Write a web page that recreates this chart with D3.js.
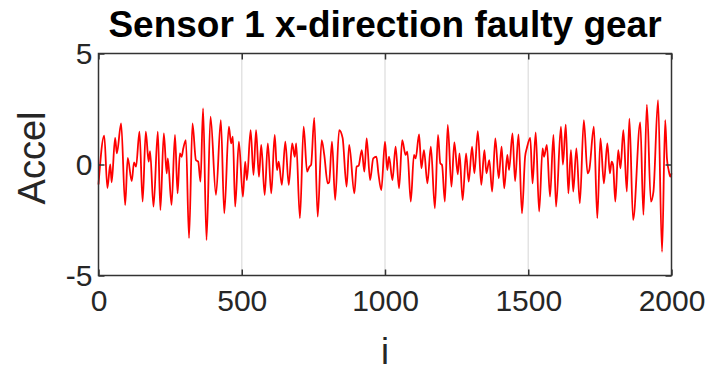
<!DOCTYPE html>
<html>
<head>
<meta charset="utf-8">
<script src="https://cdn.jsdelivr.net/npm/d3@7"></script>
<style>
  html, body { margin: 0; padding: 0; background: #fff; }
  svg { display: block; font-family: "Liberation Sans", Arial, Helvetica, sans-serif; }
</style>
</head>
<body>
<div id="chart"></div>
<script>
// sample index and acceleration at each turning point of the trace
const sampleIndex = [
  0, 20, 31, 41, 46, 58, 64, 79, 93, 102, 116, 124, 131, 143, 154, 165, 175, 180, 192, 207,
  216, 228, 238, 242, 255, 267, 276, 284, 290, 296, 305, 316, 328, 340, 348, 356, 365, 377, 391, 410,
  427, 439, 455, 463, 469, 477, 490, 504, 512, 518, 531, 541, 550, 560, 568, 580, 591, 603, 615, 623,
  629, 640, 652, 664, 676, 685, 690, 703, 716, 728, 736, 742, 753, 765, 779, 788, 800, 805, 815, 826,
  840, 852, 866, 875, 893, 901, 908, 919, 928, 936, 948, 959, 970, 977, 987, 1000, 1008, 1014, 1026, 1037,
  1049, 1060, 1072, 1078, 1090, 1101, 1107, 1119, 1127, 1136, 1148, 1160, 1174, 1185, 1193, 1199, 1209, 1219, 1232, 1242,
  1254, 1260, 1271, 1283, 1292, 1304, 1312, 1324, 1336, 1347, 1354, 1364, 1374, 1385, 1397, 1407, 1416, 1427, 1433, 1445,
  1454, 1466, 1478, 1489, 1495, 1507, 1515, 1526, 1538, 1550, 1555, 1565, 1576, 1588, 1597, 1614, 1621, 1631, 1640, 1649,
  1657, 1668, 1680, 1694, 1707, 1713, 1729, 1741, 1752, 1764, 1776, 1785, 1791, 1796, 1804, 1814, 1822, 1832, 1844, 1853,
  1866, 1891, 1902, 1914, 1928, 1937, 1953, 1967, 1978, 1984, 1990, 1996, 2000
];
const accel = [
  -0.9, 1.3, -1.06, 0.0, -0.8, 1.2, 0.5, 1.85, -1.83, 0.3, -0.75, 0.1, -0.1, 1.48, -1.67, 1.48, 0.13, 0.6, -1.9, 1.48,
  -2.05, 1.4, -0.4, 0.28, -1.82, 1.33, -1.3, 0.5, 0.35, 0.73, 1.1, -3.32, 1.85, 0.2, 0.13, -0.77, 2.53, -3.4, 2.15, -1.37,
  2.0, -2.2, 1.7, 0.95, 1.25, -1.9, 1.03, -1.45, 0.13, -0.7, 1.55, -0.47, 1.55, -0.55, 0.88, -1.37, 0.95, -1.3, 1.33, -0.25,
  0.13, -0.92, 1.03, -0.92, 0.95, 0.35, 0.95, -2.42, 1.7, -0.32, -0.1, -0.02, 2.1, -2.35, 1.1, 0.43, -0.85, -0.8, 1.03, -1.6,
  1.55, 1.2, -1.0, 0.88, -1.3, -0.1, -0.05, 0.65, -0.32, 1.18, -0.7, 0.28, 0.35, -0.4, -1.15, 1.03, -0.25, 0.35, -0.7, 0.8,
  -1.07, 1.1, 0.43, 0.58, -1.67, 0.43, 0.28, 1.36, -0.17, 0.65, -0.85, 0.8, -1.97, 1.33, 0.05, -0.02, -1.67, 1.78, -1.0, 1.0,
  -0.44, 0.5, -1.6, 0.5, -0.77, 0.8, -0.4, 1.5, -0.92, 0.65, -0.4, 0.2, -1.22, 1.18, -0.62, 0.8, -1.07, 0.43, -0.25, 1.4,
  -0.75, 1.36, -2.2, 0.35, 0.73, 1.2, -0.85, 1.45, -2.12, 0.73, 0.35, 0.88, -1.45, 1.33, -1.9, 1.7, 0.0, 1.8, -1.3, 0.65,
  -1.22, 0.73, -1.75, 2.0, -0.4, -0.25, 1.7, -2.42, 1.18, -0.85, 0.95, -0.4, 0.13, -0.02, -1.67, 0.65, -0.17, 1.55, -1.22, 2.06,
  -2.5, 1.9, -2.27, 2.7, -1.67, -1.22, 2.9, -3.93, 2.0, 0.28, -0.25, -0.55, -0.4
];

const xTicks = [0, 500, 1000, 1500, 2000];
const yTicks = [-5, 0, 5];
const gridTicks = [500, 1000, 1500];

const titleText = "Sensor 1 x-direction faulty gear";
const xLabel = "i";
const yLabel = "Accel";

const width = 712, height = 374;
const plot = { left: 98.5, right: 671.5, top: 53.5, bottom: 275.5 };
const axisColor = "#333333";

const svg = d3.select("#chart").append("svg")
  .attr("width", width)
  .attr("height", height);

const xScale = d3.scaleLinear().domain([0, 2000]).range([plot.left, plot.right]);
const yScale = d3.scaleLinear().domain([-5, 5]).range([plot.bottom, plot.top]);

// vertical grid lines
svg.append("g")
  .selectAll("line")
  .data(gridTicks)
  .join("line")
  .attr("x1", d => xScale(d)).attr("x2", d => xScale(d))
  .attr("y1", plot.top).attr("y2", plot.bottom)
  .attr("stroke", "#e3e3e3")
  .attr("stroke-width", 1.5);

// signal trace
const lineGen = d3.line()
  .x((d, i) => xScale(sampleIndex[i]))
  .y(d => yScale(d))
  .curve(d3.curveMonotoneX);

svg.append("path")
  .attr("d", lineGen(accel))
  .attr("fill", "none")
  .attr("stroke", "#ff0000")
  .attr("stroke-width", 1.8)
  .attr("stroke-linejoin", "round");

// axes with inward ticks
const styleAxis = (g, fontSize) => {
  g.select(".domain").remove();
  g.selectAll(".tick line").attr("stroke", axisColor).attr("stroke-width", 1.5);
  g.selectAll(".tick text")
    .attr("fill", "#262626")
    .style("font-size", fontSize + "px");
};

const plain = d => String(d);

svg.append("g")
  .attr("transform", `translate(0,${plot.bottom})`)
  .call(d3.axisBottom(xScale).tickValues(xTicks).tickSize(-6).tickPadding(14).tickFormat(plain))
  .call(g => styleAxis(g, 30));

svg.append("g")
  .attr("transform", `translate(0,${plot.top})`)
  .call(d3.axisTop(xScale).tickValues(xTicks).tickSize(-6).tickFormat(""))
  .call(g => styleAxis(g, 30));

svg.append("g")
  .attr("transform", `translate(${plot.left},0)`)
  .call(d3.axisLeft(yScale).tickValues(yTicks).tickSize(-6).tickPadding(6).tickFormat(plain))
  .call(g => styleAxis(g, 30));

svg.append("g")
  .attr("transform", `translate(${plot.right},0)`)
  .call(d3.axisRight(yScale).tickValues(yTicks).tickSize(-6).tickFormat(""))
  .call(g => styleAxis(g, 30));

// box
svg.append("rect")
  .attr("x", plot.left).attr("y", plot.top)
  .attr("width", plot.right - plot.left).attr("height", plot.bottom - plot.top)
  .attr("fill", "none")
  .attr("stroke", axisColor)
  .attr("stroke-width", 1.5);

// title and labels
svg.append("text")
  .attr("x", (plot.left + plot.right) / 2)
  .attr("y", 37)
  .attr("text-anchor", "middle")
  .attr("font-weight", "bold")
  .attr("font-size", 37)
  .attr("fill", "#000")
  .text(titleText);

svg.append("text")
  .attr("x", (plot.left + plot.right) / 2)
  .attr("y", 364)
  .attr("text-anchor", "middle")
  .attr("font-size", 36)
  .attr("fill", "#262626")
  .text(xLabel);

svg.append("text")
  .attr("transform", `translate(45,158) rotate(-90)`)
  .attr("text-anchor", "middle")
  .attr("font-size", 38)
  .attr("fill", "#262626")
  .text(yLabel);
</script>
</body>
</html>
